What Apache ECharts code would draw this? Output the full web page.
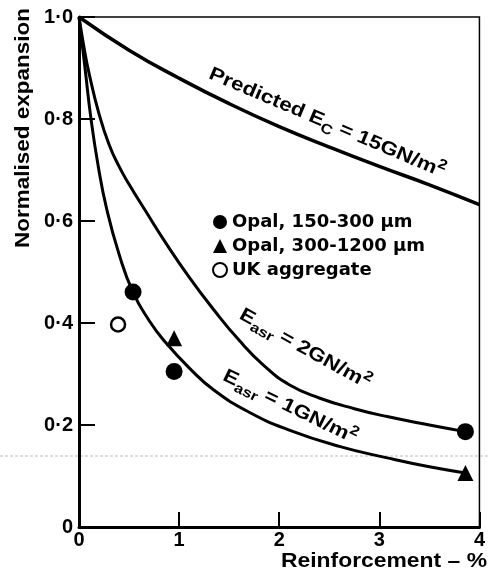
<!DOCTYPE html>
<html>
<head>
<meta charset="utf-8">
<script src="https://cdn.jsdelivr.net/npm/echarts@6/dist/echarts.min.js"></script>
<style>
html,body{margin:0;padding:0;background:#fff;}
#chart{width:488px;height:581px;}
</style>
</head>
<body>
<div id="chart"></div>
<script>
// ---- data ----
const xTickValues = [0, 1, 2, 3, 4];
const yTickValues = [0, 0.2, 0.4, 0.6, 0.8, 1.0];

const predictedCurve = [[0,1],[0.5,0.935],[1,0.88],[1.5,0.83],[2,0.785],[2.5,0.745],[3,0.707],[3.5,0.671],[4,0.632]];
const easr2Curve = [[0,1],[0.05,0.94],[0.1,0.89],[0.2,0.81],[0.3,0.75],[0.4,0.707],[0.5,0.672],[0.67,0.618],[0.85,0.562],[1.1,0.49],[1.35,0.425],[1.6,0.366],[1.85,0.316],[2.1,0.279],[2.4,0.253],[2.75,0.232],[3.09,0.216],[3.5,0.2],[3.86,0.187]];
const easr1Curve = [[0,1],[0.06,0.9],[0.12,0.8],[0.19,0.71],[0.275,0.625],[0.4,0.535],[0.54,0.46],[0.7,0.405],[0.86,0.363],[1.1,0.312],[1.35,0.268],[1.7,0.225],[2.1,0.19],[2.6,0.158],[3.09,0.135],[3.5,0.118],[3.86,0.106]];

const opal150 = [[0.54,0.461],[0.95,0.305],[3.86,0.187]];
const opal300 = [[0.95,0.37],[3.86,0.106]];
const ukAggregate = [[0.39,0.397]];

const seriesNames = ['Opal, 150-300 \u03bcm', 'Opal, 300-1200 \u03bcm', 'UK aggregate'];
const xAxisTitle = 'Reinforcement \u2013 %';
const yAxisTitle = 'Normalised expansion';

// ---- chart ----
const FONT = 'Liberation Sans';
const LEGEND_FONT = 'DejaVu Sans';
const chart = echarts.init(document.getElementById('chart'), null, {renderer: 'canvas'});

function lineSeries(data, w) {
  return {
    type: 'line', data: data, smooth: true, showSymbol: false,
    lineStyle: {color: '#000', width: w}, silent: true, z: 3
  };
}

function curveLabel(x, y, deg, fs, main1, sub, main2) {
  const ss = Math.round(fs * 0.75);
  return {
    type: 'text', x: x, y: y, rotation: -deg * Math.PI / 180, scaleX: 1.18, z: 10,
    style: {
      text: '{a|' + main1 + '}{s|' + sub + '}{a|' + main2 + '}{p|2}', align: 'center', verticalAlign: 'middle',
      rich: {
        a: {fontFamily: FONT, fontSize: fs, fontWeight: 'bold', fill: '#000', lineHeight: fs + 8, verticalAlign: 'middle'},
        s: {fontFamily: FONT, fontSize: ss, fontWeight: 'bold', fill: '#000', lineHeight: ss, verticalAlign: 'bottom'},
        p: {fontFamily: FONT, fontSize: ss, fontWeight: 'bold', fill: '#000', lineHeight: ss, verticalAlign: 'top'}
      }
    }
  };
}

const option = {
  animation: false,
  backgroundColor: '#fff',
  grid: {left: 79, right: 7, top: 17, bottom: 54, show: true, borderColor: '#000', borderWidth: 1.5},
  xAxis: {
    type: 'value', min: 0, max: 4, interval: 1,
    axisLine: {show: true, onZero: false, lineStyle: {color: '#000', width: 3}},
    axisTick: {show: true, inside: true, length: 15, lineStyle: {color: '#000', width: 2}},
    axisLabel: {color: '#000', fontFamily: FONT, fontWeight: 'bold', fontSize: 20, margin: 3,
      formatter: v => xTickValues.indexOf(v) >= 0 ? String(v) : ''},
    splitLine: {show: false}
  },
  yAxis: {
    type: 'value', min: 0, max: 1, interval: 0.2,
    axisLine: {show: true, onZero: false, lineStyle: {color: '#000', width: 3}},
    axisTick: {show: true, inside: true, length: 16, lineStyle: {color: '#000', width: 2}},
    axisLabel: {color: '#000', fontFamily: FONT, fontWeight: 'bold', fontSize: 20, margin: 6,
      formatter: v => {
        const t = yTickValues.find(k => Math.abs(k - v) < 1e-6);
        if (t === undefined) return '';
        return t === 0 ? '0' : t.toFixed(1).replace('.', '\u00b7');
      }},
    splitLine: {show: false}
  },
  legend: {
    show: true, orient: 'vertical', left: 212, top: 213, padding: 0,
    itemWidth: 14, itemHeight: 14, itemGap: 6,
    data: seriesNames,
    textStyle: {color: '#000', fontFamily: LEGEND_FONT, fontWeight: 'bold', fontSize: 18, lineHeight: 18}
  },
  series: [
    lineSeries(predictedCurve, 3.5),
    lineSeries(easr2Curve, 3),
    lineSeries(easr1Curve, 3),
    {name: seriesNames[0], type: 'scatter', data: opal150, symbol: 'circle', symbolSize: 17,
      itemStyle: {color: '#000', opacity: 1}, z: 5},
    {name: seriesNames[1], type: 'scatter', data: opal300, symbol: 'triangle', symbolSize: 16,
      itemStyle: {color: '#000', opacity: 1}, z: 5},
    {name: seriesNames[2], type: 'scatter', data: ukAggregate, symbol: 'circle', symbolSize: 14,
      itemStyle: {color: '#fff', borderColor: '#000', borderWidth: 2.5, opacity: 1}, z: 5}
  ],
  graphic: [
    {type: 'line', shape: {x1: 0, y1: 456, x2: 488, y2: 456}, z: 0,
      style: {stroke: '#bbb', lineWidth: 1, lineDash: [3, 2]}},
    {type: 'text', x: 23, y: 128, rotation: Math.PI / 2, scaleX: 1.07, z: 10,
      style: {text: yAxisTitle, fill: '#000', font: 'bold 21px "' + FONT + '"', align: 'center', verticalAlign: 'middle'}},
    {type: 'text', x: 487, y: 561, scaleX: 1.09, z: 10,
      style: {text: xAxisTitle, fill: '#000', font: 'bold 21px "' + FONT + '"', align: 'right', verticalAlign: 'middle'}},
    curveLabel(327, 123, 23, 19, 'Predicted E', 'C', ' = 15GN/m'),
    curveLabel(305, 349, 29, 19, 'E', 'asr', ' = 2GN/m'),
    curveLabel(290, 407, 26, 19, 'E', 'asr', ' = 1GN/m')
  ]
};
chart.setOption(option);
</script>
</body>
</html>
